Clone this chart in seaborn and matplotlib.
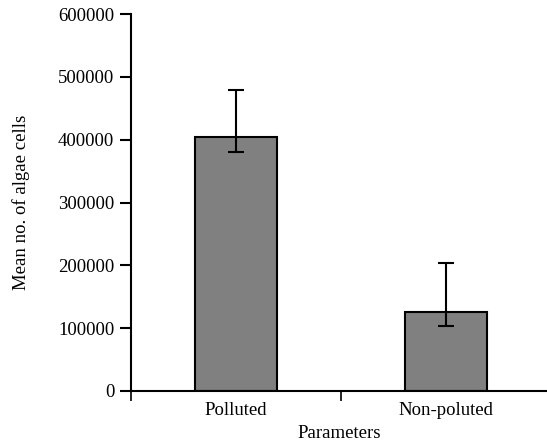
import numpy as np
import seaborn as sns
import matplotlib.pyplot as plt

# data
categories = ["Polluted", "Non-poluted"]
mean_cells = [404000, 125500]
err_upper = [479000, 204000]
err_lower = [381000, 104000]

sns.set_theme(style="white")
plt.rcParams["font.family"] = ["Liberation Serif", "DejaVu Serif"]

fig = plt.figure(figsize=(5.47, 4.42), dpi=100)
ax = fig.add_axes([0.2395, 0.1154, 0.7605, 0.8529])

sns.barplot(x=categories, y=mean_cells, color="#808080", saturation=1,
            edgecolor="black", linewidth=1.5, width=0.39, errorbar=None, ax=ax)

# asymmetric error bars
means = np.array(mean_cells)
yerr = [means - np.array(err_lower), np.array(err_upper) - means]
ax.errorbar(np.arange(len(categories)), means, yerr=yerr, fmt="none",
            ecolor="black", elinewidth=1.5, capsize=5.8, capthick=1.5)

ax.set_xlim(-0.5, 1.48)
ax.set_ylim(0, 600000)
ax.set_yticks(np.arange(0, 600001, 100000))
ax.set_yticklabels([str(v) for v in range(0, 600001, 100000)])

# category separators as major ticks, names as minor tick labels
ax.set_xticks([-0.5, 0.5])
ax.set_xticklabels([])
ax.set_xticks([0, 1], minor=True)
ax.set_xticklabels(categories, minor=True)
ax.tick_params(axis="x", which="major", direction="out", length=7, width=1.2,
               color="black", bottom=True)
ax.tick_params(axis="x", which="minor", length=0, pad=8, labelsize=13.5,
               labelcolor="black")
ax.tick_params(axis="y", direction="out", length=8, width=1.5, color="black",
               left=True, pad=4, labelsize=13.5, labelcolor="black")

for side in ["top", "right"]:
    ax.spines[side].set_visible(False)
for side in ["left", "bottom"]:
    ax.spines[side].set_color("black")
    ax.spines[side].set_linewidth(1.5)

ax.set_xlabel("Parameters", fontsize=13.5, color="black", labelpad=4)
ax.set_ylabel("Mean no. of algae cells", fontsize=13.5, color="black", labelpad=20)

fig.savefig("out.png", dpi=100)
